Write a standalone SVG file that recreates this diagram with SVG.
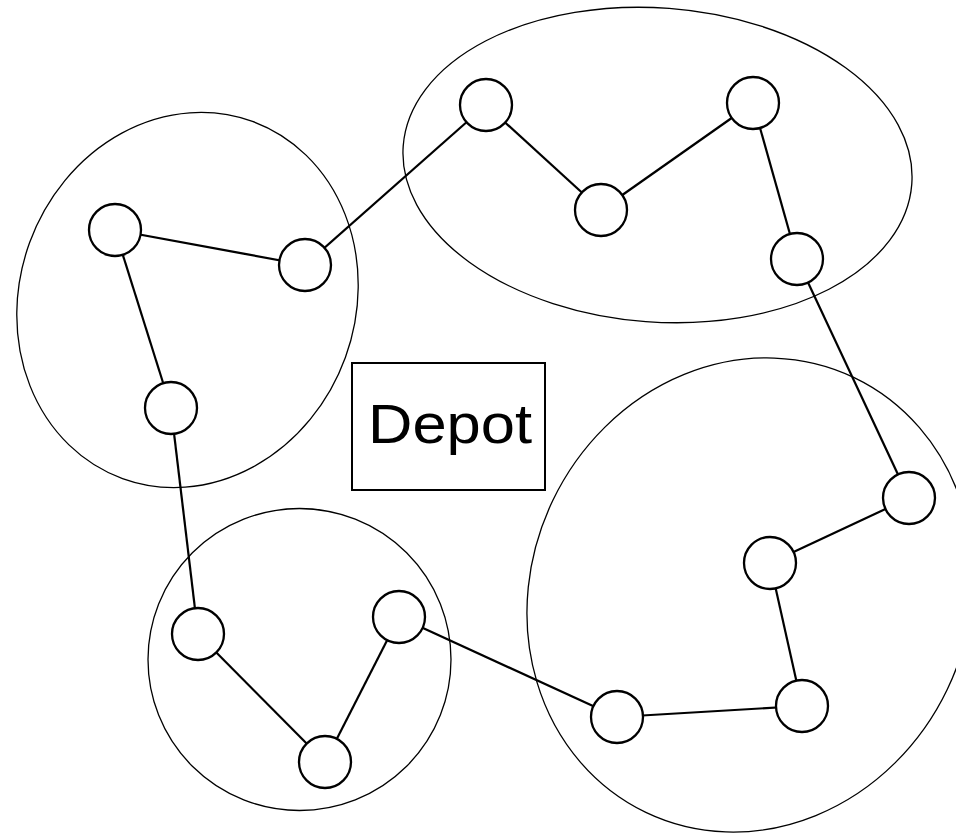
<svg xmlns="http://www.w3.org/2000/svg" width="956" height="835" viewBox="0 0 956 835">
<style>
.cluster{fill:none;stroke:#000;stroke-width:1.3}
.edge{stroke:#000;stroke-width:2.2;fill:none}
.node circle{fill:#fff;stroke:#000;stroke-width:2.3}
.depot rect{fill:#fff;stroke:#000;stroke-width:2}
.depot text{font-family:"Liberation Sans",Arial,sans-serif;font-size:56px;fill:#000}
</style>
<rect width="956" height="835" fill="#fff"/>
<g id="clusters">
<ellipse class="cluster" cx="187.5" cy="300" rx="168" ry="190" transform="rotate(20 187.5 300)"/>
<ellipse class="cluster" cx="657.5" cy="165" rx="255" ry="157" transform="rotate(4.3 657.5 165)"/>
<ellipse class="cluster" cx="299.5" cy="659.5" rx="151.5" ry="151"/>
<ellipse class="cluster" cx="750" cy="595" rx="218.7" ry="241.1" transform="rotate(25.6 750 595)"/>
</g>
<g id="connectors">
<line class="edge" x1="305" y1="265" x2="115" y2="230"/>
<line class="edge" x1="115" y1="230" x2="171" y2="408"/>
<line class="edge" x1="171" y1="408" x2="198" y2="634"/>
<line class="edge" x1="198" y1="634" x2="325" y2="762"/>
<line class="edge" x1="325" y1="762" x2="399" y2="617"/>
<line class="edge" x1="399" y1="617" x2="617" y2="717"/>
<line class="edge" x1="617" y1="717" x2="802" y2="706"/>
<line class="edge" x1="802" y1="706" x2="770" y2="563"/>
<line class="edge" x1="770" y1="563" x2="909" y2="498"/>
<line class="edge" x1="909" y1="498" x2="797" y2="259"/>
<line class="edge" x1="797" y1="259" x2="753" y2="103"/>
<line class="edge" x1="753" y1="103" x2="601" y2="210"/>
<line class="edge" x1="601" y1="210" x2="486" y2="105"/>
<line class="edge" x1="486" y1="105" x2="305" y2="265"/>
</g>
<g id="n1" class="node"><circle cx="115" cy="230" r="26"/></g>
<g id="n2" class="node"><circle cx="305" cy="265" r="26"/></g>
<g id="n3" class="node"><circle cx="171" cy="408" r="26"/></g>
<g id="n4" class="node"><circle cx="486" cy="105" r="26"/></g>
<g id="n5" class="node"><circle cx="601" cy="210" r="26"/></g>
<g id="n6" class="node"><circle cx="753" cy="103" r="26"/></g>
<g id="n7" class="node"><circle cx="797" cy="259" r="26"/></g>
<g id="n8" class="node"><circle cx="909" cy="498" r="26"/></g>
<g id="n9" class="node"><circle cx="770" cy="563" r="26"/></g>
<g id="n10" class="node"><circle cx="802" cy="706" r="26"/></g>
<g id="n11" class="node"><circle cx="617" cy="717" r="26"/></g>
<g id="n12" class="node"><circle cx="198" cy="634" r="26"/></g>
<g id="n13" class="node"><circle cx="399" cy="617" r="26"/></g>
<g id="n14" class="node"><circle cx="325" cy="762" r="26"/></g>
<g id="depot" class="depot">
<rect x="352" y="363" width="193" height="127"/>
<text x="368" y="443" textLength="164" lengthAdjust="spacingAndGlyphs">Depot</text>
</g>
</svg>
